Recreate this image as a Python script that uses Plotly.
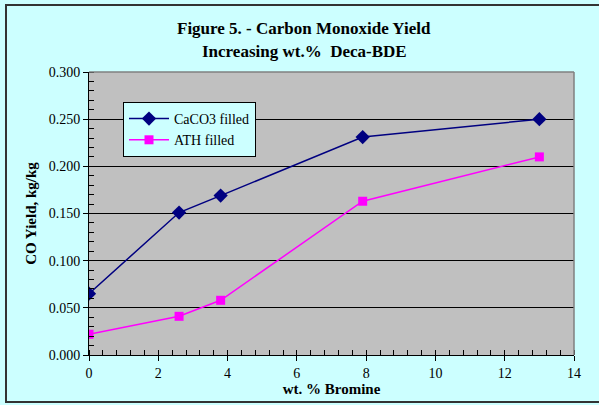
import plotly.graph_objects as go

bromine = [0, 2.6, 3.8, 7.9, 13]
caco3 = [0.065, 0.151, 0.169, 0.231, 0.250]
ath = [0.022, 0.041, 0.058, 0.163, 0.210]

W, H = 599, 405
L, R, T, B = 89, 574, 72, 355
pw, ph = R - L, B - T

def px(x):
    return (x - L) / pw

def py(y):
    return (B - y) / ph

font = "Liberation Serif"

fig = go.Figure()
fig.add_trace(go.Scatter(
    x=bromine, y=caco3, name="CaCO3 filled", mode="lines+markers",
    line=dict(color="#000080", width=1.5),
    marker=dict(symbol="diamond", size=11, color="#000080")))
fig.add_trace(go.Scatter(
    x=bromine, y=ath, name="ATH filled", mode="lines+markers",
    line=dict(color="#FF00FF", width=1.5),
    marker=dict(symbol="square", size=9, color="#FF00FF")))

fig.update_layout(
    width=W, height=H,
    margin=dict(l=L, r=W - R, t=T, b=H - B, pad=0),
    paper_bgcolor="#CCFFFF", plot_bgcolor="#C0C0C0",
    font=dict(family=font, size=14, color="black"),
    showlegend=True,
    legend=dict(x=px(123), y=py(102), xanchor="left", yanchor="top",
                bgcolor="#CCFFFF", bordercolor="black", borderwidth=1,
                font=dict(size=14, family=font), tracegroupgap=2,
                itemwidth=40),
    xaxis=dict(range=[0, 14], tickmode="linear", dtick=2, tick0=0, showgrid=False,
               showline=True, linecolor="black", linewidth=1,
               ticks="outside", ticklen=5, tickcolor="black", tickwidth=1,
               minor=dict(ticks="inside", ticklen=5, tickwidth=1, tickcolor="#000000",
                          tickmode="linear", tick0=0, dtick=0.4, showgrid=False),
               zeroline=False, layer="above traces",
               tickfont=dict(size=14, family=font),
               title=dict(text="<b>wt. % Bromine</b>", font=dict(size=15, family=font), standoff=2)),
    yaxis=dict(range=[0, 0.3], tickmode="linear", dtick=0.05, tick0=0, tickformat=".3f",
               showgrid=True, gridcolor="black", gridwidth=1,
               showline=True, linecolor="black", linewidth=1,
               ticks="outside", ticklen=5, tickcolor="black", tickwidth=1,
               minor=dict(ticks="inside", ticklen=5, tickwidth=1, tickcolor="#000000",
                          tickmode="linear", tick0=0, dtick=0.01, showgrid=False),
               zeroline=False, layer="above traces",
               tickfont=dict(size=14, family=font),
               title=dict(text="<b>CO Yield, kg/kg</b>", font=dict(size=15, family=font), standoff=8)),
)

fig.add_shape(type="line", xref="paper", yref="paper", x0=0, x1=1, y0=1, y1=1,
              line=dict(color="#808080", width=1.5))
fig.add_shape(type="line", xref="paper", yref="paper", x0=1, x1=1, y0=0, y1=1,
              line=dict(color="#808080", width=1.5))
fig.add_shape(type="rect", xref="paper", yref="paper",
              x0=px(6), x1=px(640), y0=py(402), y1=py(5),
              line=dict(color="#333333", width=2), fillcolor="rgba(0,0,0,0)", layer="below")

fig.add_annotation(text="<b>Figure 5. - Carbon Monoxide Yield</b>", xref="paper", yref="paper",
                   x=px(304), y=py(28), showarrow=False, font=dict(size=17, family=font),
                   xanchor="center", yanchor="middle")
fig.add_annotation(text="<b>Increasing wt.%  Deca-BDE</b>", xref="paper", yref="paper",
                   x=px(304), y=py(52), showarrow=False, font=dict(size=17, family=font),
                   xanchor="center", yanchor="middle")

fig.write_html("out.html")
